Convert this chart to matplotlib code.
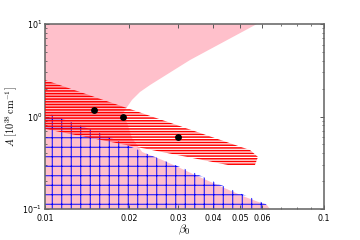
import numpy as np
import matplotlib
matplotlib.use("Agg")
import matplotlib.pyplot as plt
from matplotlib.ticker import FixedLocator, FixedFormatter, LogLocator, NullFormatter

plt.rcParams['mathtext.fontset'] = 'cm'
plt.rcParams['hatch.linewidth'] = 0.6

# excluded region (pink): left part of the plane, boundary of the allowed wedge
upper_x = [0.0575, 0.0331, 0.0238, 0.0219, 0.0205, 0.0197, 0.0189]
upper_y = [10.0, 4.08, 2.19, 1.84, 1.51, 1.27, 1.04]
lower_x = [0.0189, 0.0197, 0.0205, 0.0223, 0.0263, 0.0300, 0.0345, 0.0431, 0.0521, 0.0625, 0.064]
lower_y = [1.04, 0.85, 0.586, 0.413, 0.339, 0.284, 0.233, 0.173, 0.135, 0.110, 0.10]

# hatched (blue) region
blue_x = [0.01, 0.0109, 0.01575, 0.0228, 0.0331, 0.046, 0.062, 0.063, 0.01]
blue_y = [1.12, 1.01, 0.663, 0.4035, 0.2575, 0.1644, 0.113, 0.10, 0.10]

# red band
band_x = [0.01, 0.0543, 0.0580, 0.05655, 0.0453, 0.01]
band_y = [2.48, 0.434, 0.365, 0.299, 0.299, 0.733]

# points
beta = [0.015, 0.019, 0.03]
A = [1.18, 1.0, 0.6]

xticks = [0.01, 0.02, 0.03, 0.04, 0.05, 0.06, 0.1]
xticklabels = ['0.01', '0.02', '0.03', '0.04', '0.05', '0.06', '0.1']
xminor = [0.07, 0.08, 0.09]

dpi = 114
fig = plt.figure(figsize=(360 / dpi, 240 / dpi), dpi=dpi)
ax = fig.add_axes([0.125, 1 - 209 / 240, 0.775, 185 / 240])
ax.set_xscale('log')
ax.set_yscale('log')

pink_x = [0.01] + upper_x + lower_x[1:] + [0.01]
pink_y = [10.0] + upper_y + lower_y[1:] + [0.1]
ax.fill(pink_x, pink_y, facecolor='pink', edgecolor='none', zorder=1)
ax.fill(blue_x, blue_y, facecolor='none', edgecolor='blue', hatch='++', lw=0, zorder=2)
red, = ax.fill(band_x, band_y, facecolor='none', edgecolor='red', hatch='-------', lw=0, zorder=3)
if hasattr(red, 'set_hatch_linewidth'):
    red.set_hatch_linewidth(0.95)
ax.plot(beta, A, 'o', color='black', ms=3.3, zorder=4)

ax.set_xlim(0.01, 0.1)
ax.set_ylim(0.1, 10)

ax.xaxis.set_major_locator(FixedLocator(xticks))
ax.xaxis.set_major_formatter(FixedFormatter(xticklabels))
ax.xaxis.set_minor_locator(FixedLocator(xminor))
ax.xaxis.set_minor_formatter(NullFormatter())
ax.yaxis.set_minor_locator(LogLocator(subs=np.arange(2, 10)))
ax.yaxis.set_minor_formatter(NullFormatter())

for s in ax.spines.values():
    s.set_color('#666666')
    s.set_linewidth(1.0)
ax.tick_params(which='both', direction='in', top=True, right=True, color='#555555',
               labelsize=5)
ax.tick_params(axis='x', pad=3)
ax.tick_params(axis='y', pad=2)
ax.tick_params(which='major', length=2.5, width=0.6)
ax.tick_params(which='minor', length=1.5, width=0.5)

ax.set_xlabel(r'$\beta_0$', fontsize=7.5, labelpad=0)
ax.set_ylabel(r'$A\ [10^{38}\,{\rm cm}^{-1}]$', fontsize=6.5, labelpad=2)

fig.savefig('out.png', dpi=dpi)
